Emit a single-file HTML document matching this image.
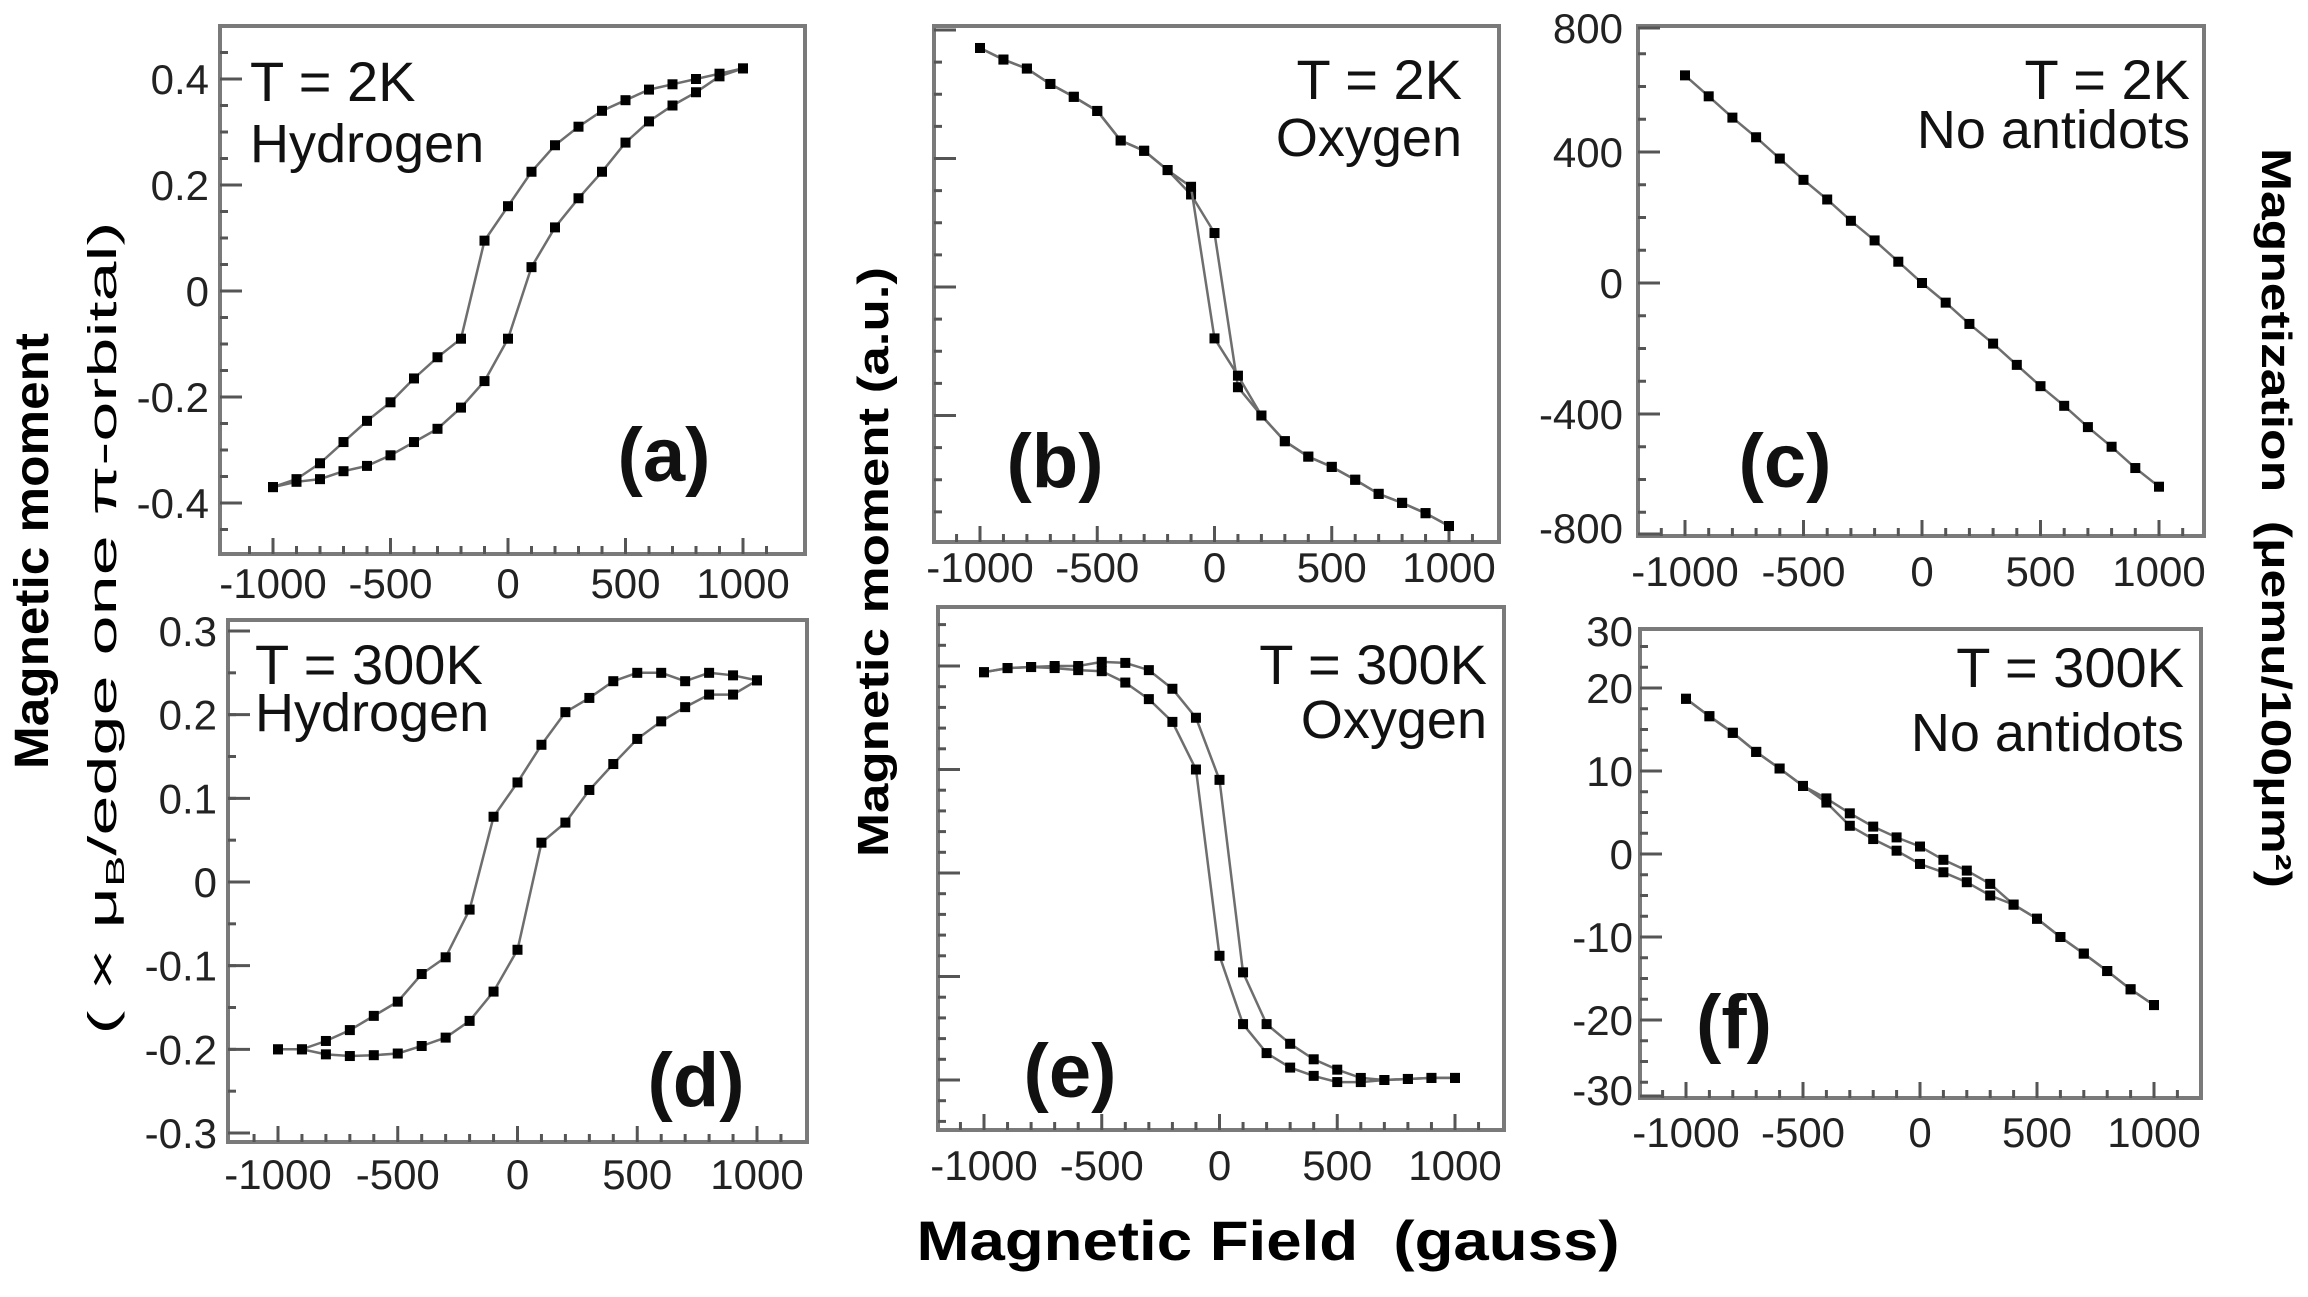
<!DOCTYPE html>
<html><head><meta charset="utf-8"><style>
html,body{margin:0;padding:0;background:#fff;}
svg{display:block;font-family:"Liberation Sans",sans-serif;}
</style></head><body>
<svg id="fig" width="2308" height="1297" viewBox="0 0 2308 1297" xmlns="http://www.w3.org/2000/svg">
<rect width="2308" height="1297" fill="#fff"/>
<g id="panels"></g>
<text transform="translate(48,551) rotate(-90)" text-anchor="middle" font-weight="bold" font-size="48" textLength="436" lengthAdjust="spacingAndGlyphs">Magnetic moment</text>
<text transform="translate(116,628) rotate(-90)" text-anchor="middle" font-size="40" textLength="813" lengthAdjust="spacingAndGlyphs">( × μ<tspan font-size="26" dy="8">B</tspan><tspan dy="-8">/edge one π-orbital)</tspan></text>
<text transform="translate(888,562) rotate(-90)" text-anchor="middle" font-weight="bold" font-size="44" textLength="590" lengthAdjust="spacingAndGlyphs">Magnetic moment (a.u.)</text>
<text transform="translate(2262,518) rotate(90)" text-anchor="middle" font-weight="bold" font-size="42" textLength="740" lengthAdjust="spacingAndGlyphs" xml:space="preserve">Magnetization  (μemu/100μm²)</text>
<text x="1268" y="1260" text-anchor="middle" font-weight="bold" font-size="56" textLength="703" lengthAdjust="spacingAndGlyphs" xml:space="preserve">Magnetic Field  (gauss)</text>
</svg>
<script>
const fields = [-1000,-900,-800,-700,-600,-500,-400,-300,-200,-100,0,100,200,300,400,500,600,700,800,900,1000];
const aUpper = [-0.37,-0.355,-0.325,-0.285,-0.245,-0.21,-0.165,-0.125,-0.09,0.095,0.16,0.225,0.275,0.31,0.34,0.36,0.38,0.39,0.40,0.41,0.42];
const aLower = [-0.37,-0.36,-0.355,-0.34,-0.33,-0.31,-0.285,-0.26,-0.22,-0.17,-0.09,0.045,0.12,0.175,0.225,0.28,0.32,0.35,0.375,0.405,0.42];
const bBranch1 = [1.86,1.77,1.7,1.58,1.48,1.37,1.14,1.06,0.91,0.72,0.42,-0.78,-1.0,-1.2,-1.32,-1.4,-1.5,-1.61,-1.68,-1.76,-1.86];
const bBranch2 = [1.86,1.77,1.7,1.58,1.48,1.37,1.14,1.06,0.91,0.78,-0.4,-0.69,-1.0,-1.2,-1.32,-1.4,-1.5,-1.61,-1.68,-1.76,-1.86];
const cValues = [634,570,505,445,380,315,255,190,130,65,0,-60,-125,-185,-250,-315,-375,-440,-500,-565,-622];
const dUpper = [-0.2,-0.2,-0.19,-0.177,-0.16,-0.143,-0.11,-0.09,-0.033,0.078,0.119,0.164,0.203,0.22,0.24,0.25,0.25,0.24,0.25,0.247,0.241];
const dLower = [-0.2,-0.2,-0.206,-0.208,-0.207,-0.205,-0.196,-0.186,-0.166,-0.131,-0.081,0.047,0.071,0.11,0.141,0.171,0.192,0.209,0.224,0.224,0.241];
const eBranch1 = [0.97,0.99,0.995,1.0,1.0,1.02,1.015,0.98,0.89,0.75,0.45,-0.48,-0.73,-0.825,-0.9,-0.95,-0.99,-1.0,-0.995,-0.99,-0.99];
const eBranch2 = [0.97,0.99,0.995,0.99,0.98,0.975,0.92,0.84,0.73,0.5,-0.4,-0.73,-0.87,-0.94,-0.98,-1.01,-1.01,-1.0,-0.995,-0.99,-0.99];
const fUpper = [18.7,16.6,14.6,12.3,10.3,8.2,6.7,4.9,3.3,2.0,0.9,-0.7,-2.0,-3.6,-6.1,-7.8,-10.0,-12.0,-14.1,-16.3,-18.2];
const fLower = [18.7,16.6,14.6,12.3,10.3,8.2,6.2,3.4,1.8,0.4,-1.2,-2.2,-3.4,-5.0,-6.1,-7.8,-10.0,-12.0,-14.1,-16.3,-18.2];
const xTickLabels = ["-1000","-500","0","500","1000"];
const xTickValues = [-1000,-500,0,500,1000];
const fXTickLabels = ["-1000","-500","0","500","1000"];
const aYTicks = [0.4,0.2,0,-0.2,-0.4];
const cYTicks = [800,400,0,-400,-800];
const dYTicks = [0.3,0.2,0.1,0,-0.1,-0.2,-0.3];
const fYTicks = [30,20,10,0,-10,-20,-30];

const NS = "http://www.w3.org/2000/svg";
const root = document.getElementById("panels");
function mk(tag, attrs, parent){ const e=document.createElementNS(NS,tag); for(const k in attrs) e.setAttribute(k,attrs[k]); (parent||root).appendChild(e); return e; }

const panels = [
 {id:"a", f:[220,26,805,554], xm:[273,743], ym:[0.4,79,-0.4,503], series:[aUpper,aLower], yt:aYTicks, ylr:209, yminor:0.05, xlb:598, t1:"T = 2K", t2:"Hydrogen", tx:250, ty1:101, ty2:162, anchor:"start", tag:"(a)", lx:664, ly:455},
 {id:"b", f:[934,26,1499,542], xm:[980,1449], ym:[1,158.5,-1,415.5], series:[bBranch1,bBranch2], yt:null, ymaj:[2,1,0,-1], yminor:0.25, xlb:582, t1:"T = 2K", t2:"Oxygen", tx:1462, ty1:99, ty2:156, anchor:"end", tag:"(b)", lx:1055, ly:461},
 {id:"c", f:[1638,26,2204,536], xm:[1685,2159], ym:[400,152,-400,414], series:[cValues], yt:cYTicks, ylr:1623, yminor:100, xlb:586, t1:"T = 2K", t2:"No antidots", tx:2190, ty1:99, ty2:148, anchor:"end", tag:"(c)", lx:1785, ly:461, clampLabels:true},
 {id:"d", f:[228,620,807,1142], xm:[278,757], ym:[0.3,631,-0.3,1133], series:[dUpper,dLower], yt:dYTicks, ylr:217, yminor:0.05, xlb:1189, t1:"T = 300K", t2:"Hydrogen", tx:255, ty1:684, ty2:731, anchor:"start", tag:"(d)", lx:696, ly:1080},
 {id:"e", f:[938,607,1504,1130], xm:[984,1455], ym:[1,666,-1,1080], series:[eBranch1,eBranch2], yt:null, ymaj:[1,0.5,0,-0.5,-1], yminor:0.1, xlb:1180, t1:"T = 300K", t2:"Oxygen", tx:1487, ty1:684, ty2:738, anchor:"end", tag:"(e)", lx:1070, ly:1071},
 {id:"f", f:[1640,629,2201,1098], xm:[1686,2154], ym:[10,771,-10,937], series:[fUpper,fLower], yt:fYTicks, ylr:1633, yminor:2.5, xlb:1147, t1:"T = 300K", t2:"No antidots", tx:2184, ty1:687, ty2:751, anchor:"end", tag:"(f)", lx:1734, ly:1022, clampLabels:true}
];

panels.forEach(p=>{
  const g = mk("g",{});
  
  
  const [L,T,R,B]=p.f;
  const X = v => p.xm[0] + (v+1000)/2000*(p.xm[1]-p.xm[0]);
  const Y = v => p.ym[1] + (v-p.ym[0])/(p.ym[2]-p.ym[0])*(p.ym[3]-p.ym[1]);
  const fr = mk("rect",{x:L,y:T,width:R-L,height:B-T,fill:"none",stroke:"#7a7a7a","stroke-width":4},g);
  
  
  // x ticks
  for(let v=-1100; v<=1100; v+=100){
    const x=X(v); if(x<L+4||x>R-4) continue;
    const major = v%500===0;
    mk("line",{x1:x,x2:x,y1:B,y2:B-(major?16:8),stroke:"#555","stroke-width":3},g);
  }
  xTickValues.forEach((v,i)=>{
    const t=mk("text",{x:X(v),y:p.xlb,"text-anchor":"middle","font-size":42,fill:"#222"},g);
    t.textContent = (p.id==="f"?fXTickLabels:xTickLabels)[i];
    
    
  });
  // y ticks
  const lo=Math.min(p.ym[0],p.ym[2]), span=Math.abs(p.ym[0]-p.ym[2]);
  const vTop = p.ym[0] + (T-p.ym[1])/(p.ym[3]-p.ym[1])*(p.ym[2]-p.ym[0]);
  const vBot = p.ym[0] + (B-p.ym[1])/(p.ym[3]-p.ym[1])*(p.ym[2]-p.ym[0]);
  for(let k=Math.ceil(vBot/p.yminor); k*p.yminor<=vTop; k++){
    const y=Y(k*p.yminor); if(y<T+4||y>B-4) continue;
    mk("line",{x1:L,x2:L+8,y1:y,y2:y,stroke:"#555","stroke-width":3},g);
  }
  const majors = p.yt || p.ymaj;
  majors.forEach(v=>{
    const y=Y(v); if(y<T-10||y>B+10) return;
    mk("line",{x1:L,x2:L+22,y1:Math.min(Math.max(y,T+2),B-2),y2:Math.min(Math.max(y,T+2),B-2),stroke:"#555","stroke-width":3},g);
  });
  if(p.yt){
    p.yt.forEach(v=>{
      let y=Y(v);
      if(p.clampLabels){ y=Math.min(Math.max(y,T+2),B-8); }
      const t=mk("text",{x:p.ylr,y:y+15,"text-anchor":"end","font-size":42,fill:"#222"},g);
      t.textContent = String(v);
      
      
    });
  }
  // series
  p.series.forEach((s,si)=>{
    const pts = fields.map((f,i)=>X(f).toFixed(1)+","+Y(s[i]).toFixed(1)).join(" ");
    const pl=mk("polyline",{points:pts,fill:"none",stroke:"#6e6e6e","stroke-width":2.5},g);
    
    
    fields.forEach((f,i)=>{
      const m=mk("rect",{x:X(f)-5,y:Y(s[i])-5,width:10,height:10,fill:"#000"},g);
      
      
    });
  });
  const t1=mk("text",{x:p.tx,y:p.ty1,"text-anchor":p.anchor,"font-size":56,fill:"#111"},g);
  t1.textContent=p.t1;
  
  
  const t2=mk("text",{x:p.tx,y:p.ty2,"text-anchor":p.anchor,"font-size":54,fill:"#111"},g);
  t2.textContent=p.t2;
  
  
  const tg=mk("text",{x:p.lx,y:p.ly+26,"text-anchor":"middle","font-size":76,"font-weight":"bold",fill:"#111"},g);
  tg.textContent=p.tag;
  
  
});
</script>
</body></html>
